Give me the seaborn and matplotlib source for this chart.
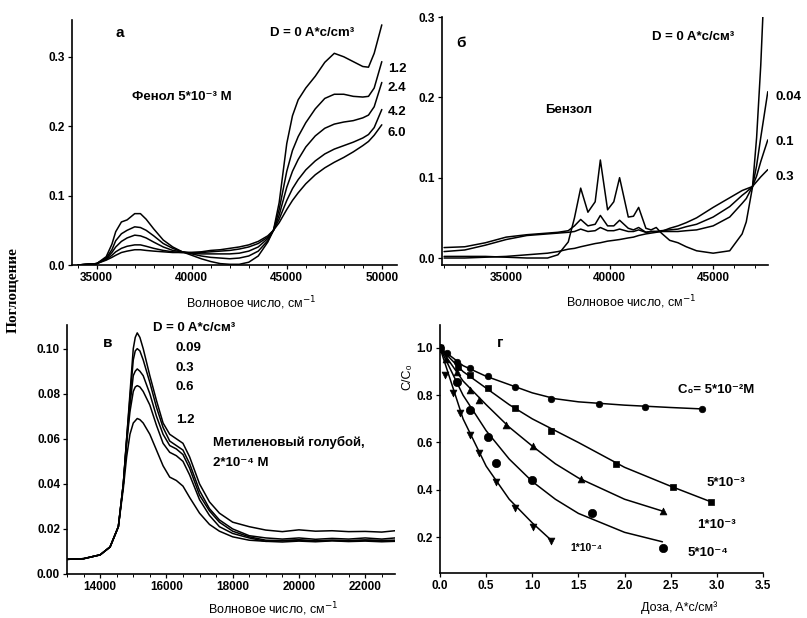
import numpy as np
import pandas as pd
import matplotlib
matplotlib.use("Agg")
import matplotlib.pyplot as plt
import seaborn as sns

# ---------------- data: panel а (phenol) ----------------
wn_a = [34000, 35000, 35500, 35800, 36000, 36300, 36600, 37000, 37300, 37600, 38000, 38500,
        39000, 39500, 40000, 40500, 41000, 41500, 42000, 42500, 43000, 43500, 44000, 44300,
        44600, 45000, 45300, 45600, 46000, 46500, 47000, 47500, 48000, 48500, 49000, 49300,
        49600, 50000]
a_D0 = [0.0, 0.002, 0.012, 0.03, 0.048, 0.062, 0.065, 0.074, 0.074, 0.066, 0.052, 0.036,
        0.026, 0.019, 0.014, 0.009, 0.005, 0.002, 0.001, 0.001, 0.004, 0.013, 0.033, 0.05,
        0.09, 0.175, 0.215, 0.238, 0.255, 0.272, 0.292, 0.305, 0.300, 0.293, 0.286, 0.285,
        0.305, 0.346]
a_D12 = [0.0, 0.002, 0.01, 0.022, 0.035, 0.045, 0.05, 0.055, 0.054, 0.05, 0.042, 0.031,
         0.024, 0.019, 0.016, 0.013, 0.011, 0.01, 0.009, 0.01, 0.013, 0.02, 0.035, 0.05,
         0.08, 0.135, 0.165, 0.185, 0.205, 0.225, 0.24, 0.246, 0.246, 0.243, 0.242, 0.243,
         0.255, 0.293]
a_D24 = [0.0, 0.002, 0.009, 0.018, 0.026, 0.034, 0.039, 0.043, 0.042, 0.039, 0.033, 0.026,
         0.021, 0.019, 0.017, 0.016, 0.016, 0.016, 0.016, 0.017, 0.02, 0.026, 0.038, 0.05,
         0.072, 0.112, 0.135, 0.152, 0.17, 0.186, 0.197, 0.203, 0.206, 0.208, 0.212, 0.216,
         0.228, 0.263]
a_D42 = [0.0, 0.002, 0.008, 0.014, 0.019, 0.024, 0.027, 0.029, 0.029, 0.027, 0.024, 0.021,
         0.019, 0.018, 0.018, 0.018, 0.019, 0.02, 0.021, 0.023, 0.026, 0.031, 0.04, 0.05,
         0.066, 0.093, 0.11, 0.123, 0.137, 0.15, 0.16, 0.167, 0.172, 0.177, 0.183, 0.188,
         0.198, 0.224]
a_D60 = [0.0, 0.002, 0.007, 0.011, 0.014, 0.018, 0.02, 0.022, 0.022, 0.021, 0.02, 0.019,
         0.018, 0.018, 0.018, 0.019, 0.021, 0.022, 0.024, 0.026, 0.029, 0.034, 0.042, 0.05,
         0.061, 0.08, 0.093, 0.104, 0.117, 0.13, 0.14, 0.148, 0.155, 0.163, 0.172, 0.178,
         0.187, 0.202]
a_labels = ["1.2", "2.4", "4.2", "6.0"]

# ---------------- data: panel б (benzene) ----------------
wn_b = [32000, 33000, 34000, 35000, 36000, 37000, 37500, 38000, 38300, 38600, 38950, 39300,
        39550, 39900, 40200, 40480, 40900, 41150, 41400, 41750, 42000, 42250, 42500, 42900,
        43300, 43700, 44200, 45000, 45800, 46400, 46600, 46900, 47100, 47300, 47450, 47640]
b_D0 = [0.002, 0.002, 0.002, 0.001, 0.0, 0.0, 0.004, 0.02, 0.05, 0.087, 0.057, 0.07,
        0.122, 0.06, 0.07, 0.10, 0.051, 0.052, 0.063, 0.037, 0.035, 0.038, 0.031, 0.022,
        0.019, 0.014, 0.009, 0.006, 0.009, 0.03, 0.045, 0.088, 0.15, 0.24, 0.33, 0.45]
b_D004 = [0.013, 0.014, 0.019, 0.026, 0.029, 0.031, 0.032, 0.034, 0.04, 0.048, 0.040, 0.042,
          0.053, 0.040, 0.040, 0.047, 0.037, 0.035, 0.038, 0.032, 0.033, 0.033, 0.033, 0.033,
          0.033, 0.034, 0.035, 0.040, 0.051, 0.068, 0.074, 0.089, 0.115, 0.15, 0.175, 0.207]
b_D01 = [0.008, 0.010, 0.016, 0.023, 0.028, 0.030, 0.031, 0.032, 0.033, 0.036, 0.033, 0.034,
         0.038, 0.034, 0.034, 0.036, 0.033, 0.033, 0.035, 0.032, 0.033, 0.033, 0.034, 0.035,
         0.036, 0.039, 0.042, 0.051, 0.064, 0.078, 0.082, 0.089, 0.102, 0.12, 0.132, 0.147]
b_D03 = [0.0, 0.0, 0.001, 0.002, 0.004, 0.006, 0.008, 0.011, 0.012, 0.014, 0.016, 0.018,
         0.019, 0.021, 0.022, 0.023, 0.025, 0.026, 0.028, 0.030, 0.031, 0.032, 0.033, 0.037,
         0.040, 0.044, 0.050, 0.063, 0.075, 0.084, 0.086, 0.089, 0.095, 0.101, 0.105, 0.11]
b_labels = ["0.04", "0.1", "0.3"]

# ---------------- data: panel в (methylene blue) ----------------
wn_c = [13000, 13500, 14000, 14300, 14550, 14700, 14800, 14900, 15000, 15060, 15120, 15200,
        15300, 15500, 15700, 15900, 16100, 16300, 16500, 16700, 17000, 17300, 17600, 18000,
        18500, 19000, 19500, 20000, 20500, 21000, 21500, 22000, 22500, 22900]
c_D0 = [0.0065, 0.0068, 0.0085, 0.012, 0.021, 0.040, 0.060, 0.080, 0.100, 0.105, 0.107, 0.105,
        0.100, 0.088, 0.077, 0.067, 0.062, 0.060, 0.058, 0.052, 0.040, 0.032, 0.027, 0.023,
        0.021, 0.0195, 0.0188, 0.0196, 0.0190, 0.0192, 0.0188, 0.0189, 0.0186, 0.0192]
c_D009 = [0.0065, 0.0068, 0.0085, 0.012, 0.021, 0.040, 0.060, 0.078, 0.095, 0.099, 0.100, 0.099,
          0.095, 0.085, 0.074, 0.065, 0.059, 0.057, 0.055, 0.049, 0.037, 0.029, 0.024, 0.020,
          0.017, 0.016, 0.0155, 0.0160, 0.0154, 0.0158, 0.0155, 0.0160, 0.0155, 0.0160]
c_D03 = [0.0065, 0.0068, 0.0085, 0.012, 0.021, 0.040, 0.059, 0.075, 0.088, 0.090, 0.091, 0.090,
         0.088, 0.080, 0.070, 0.062, 0.057, 0.0555, 0.053, 0.047, 0.035, 0.028, 0.023, 0.019,
         0.0165, 0.015, 0.0148, 0.0152, 0.0147, 0.0150, 0.0148, 0.0151, 0.0149, 0.0150]
c_D06 = [0.0065, 0.0068, 0.0085, 0.012, 0.021, 0.040, 0.058, 0.072, 0.081, 0.083, 0.0836, 0.083,
         0.081, 0.075, 0.066, 0.058, 0.054, 0.0525, 0.050, 0.044, 0.033, 0.026, 0.021, 0.018,
         0.016, 0.0145, 0.0142, 0.0146, 0.0143, 0.0147, 0.0144, 0.0146, 0.0143, 0.0145]
c_D12 = [0.0065, 0.0068, 0.0085, 0.012, 0.021, 0.038, 0.052, 0.062, 0.067, 0.068, 0.069, 0.0685,
         0.067, 0.062, 0.055, 0.048, 0.043, 0.0415, 0.039, 0.034, 0.027, 0.022, 0.019, 0.0165,
         0.015, 0.0145, 0.0148, 0.0150, 0.0146, 0.0149, 0.0147, 0.0150, 0.0147, 0.0148]
c_labels = ["0.09", "0.3", "0.6", "1.2"]

# ---------------- data: panel г (C/C0 vs dose) ----------------
pts_5e2_x = [0.0, 0.072, 0.187, 0.324, 0.522, 0.81, 1.206, 1.728, 2.225, 2.837]
pts_5e2_y = [1.0, 0.978, 0.942, 0.914, 0.881, 0.836, 0.783, 0.762, 0.752, 0.742]
pts_5e3_x = [0.0, 0.198, 0.324, 0.522, 0.81, 1.206, 1.908, 2.52, 2.934]
pts_5e3_y = [1.0, 0.921, 0.886, 0.829, 0.745, 0.649, 0.509, 0.41, 0.347]
pts_1e3_x = [0.0, 0.06, 0.187, 0.324, 0.421, 0.713, 1.008, 1.53, 2.412]
pts_1e3_y = [1.0, 0.955, 0.90, 0.822, 0.78, 0.674, 0.585, 0.445, 0.311]
pts_5e4_x = [0.0, 0.187, 0.324, 0.522, 0.612, 1.001, 1.649, 2.412]
pts_5e4_y = [1.0, 0.857, 0.738, 0.622, 0.512, 0.441, 0.30, 0.152]
pts_1e4_x = [0.0, 0.054, 0.144, 0.216, 0.324, 0.421, 0.612, 0.81, 1.008, 1.206]
pts_1e4_y = [1.0, 0.886, 0.808, 0.724, 0.632, 0.557, 0.434, 0.321, 0.244, 0.184]

fit_5e2_x = [0.0, 0.25, 0.5, 0.75, 1.0, 1.25, 1.5, 2.0, 2.5, 2.84]
fit_5e2_y = [1.0, 0.925, 0.88, 0.845, 0.81, 0.785, 0.772, 0.758, 0.748, 0.742]
fit_5e3_x = [0.0, 0.25, 0.5, 0.75, 1.0, 1.5, 2.0, 2.5, 2.93]
fit_5e3_y = [1.0, 0.9, 0.83, 0.76, 0.70, 0.60, 0.495, 0.415, 0.35]
fit_1e3_x = [0.0, 0.25, 0.5, 0.75, 1.0, 1.25, 1.5, 2.0, 2.41]
fit_1e3_y = [1.0, 0.86, 0.76, 0.665, 0.585, 0.51, 0.45, 0.36, 0.31]
fit_5e4_x = [0.0, 0.25, 0.5, 0.75, 1.0, 1.25, 1.5, 2.0, 2.41]
fit_5e4_y = [1.0, 0.80, 0.65, 0.53, 0.435, 0.36, 0.30, 0.22, 0.18]
fit_1e4_x = [0.0, 0.1, 0.25, 0.5, 0.75, 1.0, 1.21]
fit_1e4_y = [1.0, 0.88, 0.70, 0.50, 0.36, 0.26, 0.185]

# ---------------- style ----------------
sns.set_style("ticks")
plt.rcParams["font.family"] = ["Liberation Sans", "DejaVu Sans"]
plt.rcParams["mathtext.fontset"] = "dejavusans"
plt.rcParams["text.color"] = "black"
plt.rcParams["axes.labelcolor"] = "black"
plt.rcParams["xtick.color"] = "black"
plt.rcParams["ytick.color"] = "black"

W, H = 807, 618
fig = plt.figure(figsize=(W / 100, H / 100), dpi=100)


def axes_px(left, top, right, bottom):
    return fig.add_axes([left / W, 1 - bottom / H, (right - left) / W, (bottom - top) / H])


def ftext(x, y, s, size=9.5, ha="left", weight="bold", **kw):
    fig.text(x / W, 1 - y / H, s, ha=ha, va="center", fontsize=size, fontweight=weight,
             color="black", **kw)


def style_ax(ax):
    sns.despine(ax=ax)
    for sp in ("left", "bottom"):
        ax.spines[sp].set_linewidth(1.2)
        ax.spines[sp].set_color("black")
    ax.tick_params(axis="both", which="major", length=3, width=0.9, labelsize=8.5,
                   pad=2, colors="black")
    ax.tick_params(axis="both", which="minor", length=2, width=0.7, colors="black")
    for lab in ax.get_xticklabels() + ax.get_yticklabels():
        lab.set_fontweight("bold")
    ax.set_ylabel("")
    ax.set_facecolor("white")


def draw_lines(ax, x, series):
    for ys in series:
        sns.lineplot(x=x, y=ys, ax=ax, color="black", lw=1.1, estimator=None, sort=False)


LBL = "Волновое число, см$^{-1}$"

# ---- panel а ----
ax1 = axes_px(72, 20, 397, 265)
draw_lines(ax1, wn_a, [a_D0, a_D12, a_D24, a_D42, a_D60])
ax1.set_xlim(33700, 50800)
ax1.set_ylim(0, 0.353)
ax1.set_xticks([35000, 40000, 45000, 50000])
ax1.set_xticks(np.arange(34000, 50001, 1000), minor=True)
ax1.set_yticks([0.0, 0.1, 0.2, 0.3])
ax1.set_yticklabels(["0.0", "0.1", "0.2", "0.3"])
ax1.set_xlabel(LBL, fontsize=9, color="black")
ax1.xaxis.set_label_coords(0.55, -0.12)
style_ax(ax1)

ftext(115, 33, "а", size=11)
ftext(270, 33, "D = 0 A*c/cm³")
for lab, yy in zip(a_labels, [69, 88, 112, 133]):
    ftext(388, yy, lab)
ftext(132, 97, "Фенол 5*10⁻³ M")

# ---- panel б ----
ax2 = axes_px(442, 17, 768, 265)
draw_lines(ax2, wn_b, [b_D0, b_D004, b_D01, b_D03])
ax2.set_xlim(31900, 47650)
ax2.set_ylim(-0.0087, 0.300)
ax2.set_xticks([35000, 40000, 45000])
ax2.set_xticks(np.arange(32000, 47001, 1000), minor=True)
ax2.set_yticks([0.0, 0.1, 0.2, 0.3])
ax2.set_yticklabels(["0.0", "0.1", "0.2", "0.3"])
ax2.set_xlabel(LBL, fontsize=9, color="black")
ax2.xaxis.set_label_coords(0.58, -0.115)
style_ax(ax2)

ftext(456, 43, "б", size=11)
ftext(652, 37, "D = 0 A*c/см³")
ftext(545, 110, "Бензол")
for lab, yy in zip(b_labels, [97, 142, 177]):
    ftext(776, yy, lab)

# ---- panel в ----
ax3 = axes_px(67, 325, 395, 574)
draw_lines(ax3, wn_c, [c_D0, c_D009, c_D03, c_D06, c_D12])
ax3.set_xlim(13000, 22900)
ax3.set_ylim(0, 0.1105)
ax3.set_xticks([14000, 16000, 18000, 20000, 22000])
ax3.set_xticks(np.arange(13000, 22901, 500), minor=True)
ax3.set_yticks([0.0, 0.02, 0.04, 0.06, 0.08, 0.10])
ax3.set_yticklabels(["0.00", "0.02", "0.04", "0.06", "0.08", "0.10"])
ax3.set_xlabel(LBL, fontsize=9, color="black")
ax3.xaxis.set_label_coords(0.63, -0.105)
style_ax(ax3)

ftext(103, 343, "в", size=11)
ftext(153, 328, "D = 0 A*c/см³")
for lab, yy in zip(c_labels, [348, 368, 387, 420]):
    ftext(176, yy, lab)
ftext(213, 442, "Метиленовый голубой,")
ftext(213, 463, "2*10⁻⁴ M")

# ---- panel г ----
ax4 = axes_px(440, 325, 763, 573)
fits = [(fit_5e2_x, fit_5e2_y), (fit_5e3_x, fit_5e3_y), (fit_1e3_x, fit_1e3_y),
        (fit_5e4_x, fit_5e4_y), (fit_1e4_x, fit_1e4_y)]
for fx, fy in fits:
    sns.lineplot(x=fx, y=fy, ax=ax4, color="black", lw=1.1, estimator=None, sort=False)
pts = [(pts_5e2_x, pts_5e2_y, "o", 22), (pts_5e3_x, pts_5e3_y, "s", 18),
       (pts_1e3_x, pts_1e3_y, "^", 24), (pts_5e4_x, pts_5e4_y, "o", 36),
       (pts_1e4_x, pts_1e4_y, "v", 24)]
for px, py, m, sz in pts:
    sns.scatterplot(x=px, y=py, ax=ax4, marker=m, s=sz, color="black", edgecolor="black",
                    linewidth=0.5, zorder=3)
ax4.set_xlim(0, 3.5)
ax4.set_ylim(0.048, 1.097)
ax4.set_xticks(np.arange(0, 3.51, 0.5))
ax4.set_xticklabels(["0.0", "0.5", "1.0", "1.5", "2.0", "2.5", "3.0", "3.5"])
ax4.set_yticks([0.2, 0.4, 0.6, 0.8, 1.0])
ax4.set_yticklabels(["0.2", "0.4", "0.6", "0.8", "1.0"])
ax4.set_xlabel("Доза, A*c/см³", fontsize=9, color="black")
ax4.xaxis.set_label_coords(0.74, -0.115)
style_ax(ax4)

ftext(497, 343, "г", size=11)
ftext(678, 390, "C₀= 5*10⁻²M")
ftext(707, 483, "5*10⁻³")
ftext(697, 525, "1*10⁻³")
ftext(688, 553, "5*10⁻⁴")
ftext(570, 548, "1*10⁻⁴", size=7.5)
fig.text(407 / W, 1 - 377 / H, "C/C₀", rotation=90, ha="center", va="center", fontsize=9,
         color="black")

fig.text(13 / W, 1 - 290 / H, "Поглощение", rotation=90, ha="center", va="center",
         fontsize=11, fontweight="bold", color="black",
         family=["Liberation Serif", "DejaVu Serif"])

fig.savefig("out.png", dpi=100, facecolor="white")
